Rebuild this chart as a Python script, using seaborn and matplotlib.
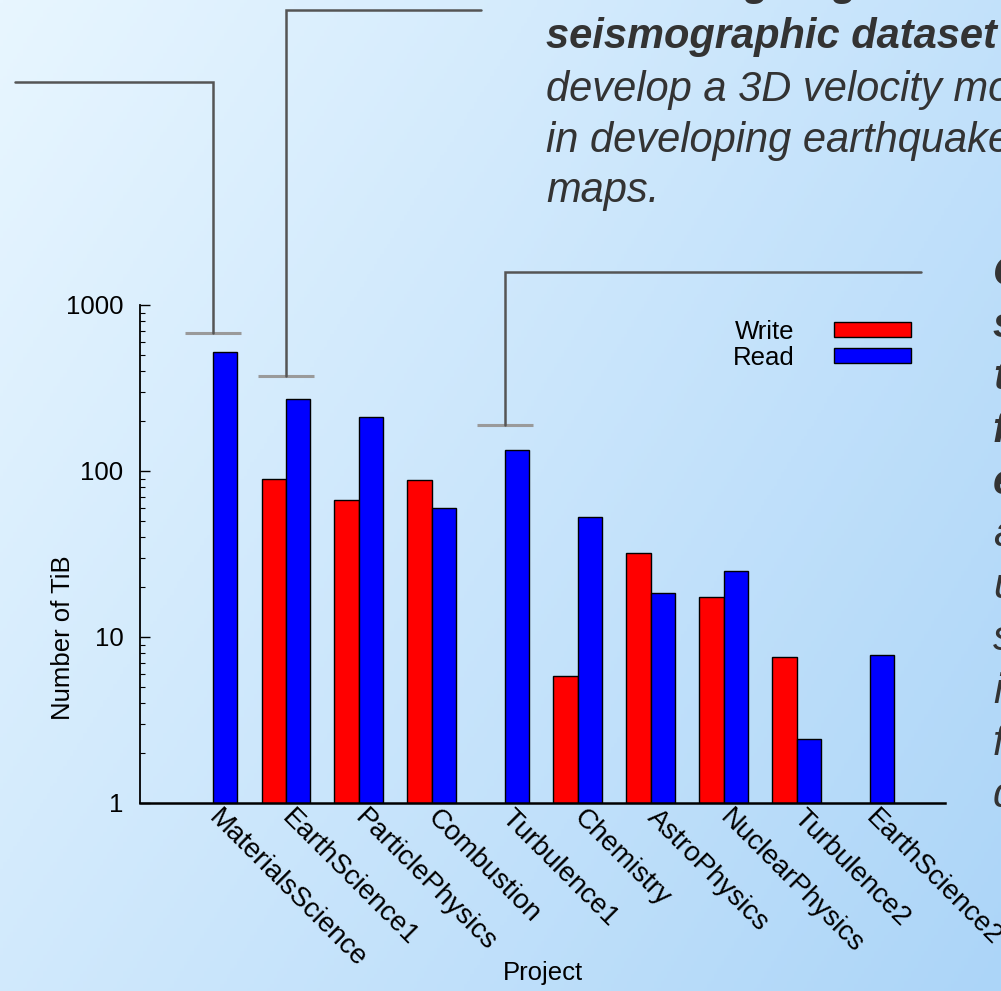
import numpy as np
import pandas as pd
import matplotlib
matplotlib.use("Agg")
import matplotlib.pyplot as plt
import seaborn as sns

# ---- data -------------------------------------------------------------
projects = ["MaterialsScience", "EarthScience1", "ParticlePhysics", "Combustion",
            "Turbulence1", "Chemistry", "AstroPhysics", "NuclearPhysics",
            "Turbulence2", "EarthScience2"]
write_tib = [np.nan, 90, 67, 88, np.nan, 5.8, 32, 17.4, 7.6, np.nan]
read_tib = [519, 270, 212, 60, 134, 53, 18.4, 25, 2.43, 7.8]
series_names = ["Write", "Read"]
series_colors = ["#ff0000", "#0000ff"]
y_ticks = [1, 10, 100, 1000]
y_tick_labels = ["1", "10", "100", "1000"]

# callout brackets: project, bracket level (TiB)
callout_projects = ["MaterialsScience", "EarthScience1", "Turbulence1"]
callout_levels = [678, 373, 189]

top_note = ["Processing large", "seismographic dataset", "develop a 3D velocity model",
            "in developing earthquake", "maps."]
side_note = ["Combustion", "simulations", "that", "fully", "exploit",
             "adaptive", "unstructured", "spatial", "information", "from", "data"]

df = pd.DataFrame({
    "Project": projects * 2,
    "Series": [series_names[0]] * len(projects) + [series_names[1]] * len(projects),
    "TiB": write_tib + read_tib,
})

# ---- figure -----------------------------------------------------------
sns.set_style("ticks")
plt.rcParams["font.family"] = ["Liberation Sans", "DejaVu Sans"]
plt.rcParams["text.color"] = "black"
plt.rcParams["axes.labelcolor"] = "black"
plt.rcParams["xtick.color"] = "black"
plt.rcParams["ytick.color"] = "black"
W, H = 1001, 991
fig = plt.figure(figsize=(W / 100, H / 100), dpi=100)

# soft diagonal gradient behind everything
bg = fig.add_axes([0, 0, 1, 1], zorder=-10)
gx, gy = np.meshgrid(np.linspace(0, 1, 300), np.linspace(0, 1, 300))
t = np.clip(0.62 * gx + 0.38 * gy, 0, 1)
c0 = np.array([232, 246, 255]) / 255.0
c1 = np.array([172, 213, 248]) / 255.0
img = c0[None, None, :] * (1 - t[..., None]) + c1[None, None, :] * t[..., None]
bg.imshow(img, aspect="auto", extent=[0, 1, 0, 1], origin="upper")
bg.set_axis_off()

ax_l, ax_r, ax_t, ax_b = 140, 945, 305, 803
ax = fig.add_axes([ax_l / W, (H - ax_b) / H, (ax_r - ax_l) / W, (ax_b - ax_t) / H])
ax.patch.set_alpha(0)
ax.set_yscale("log")

sns.barplot(data=df, x="Project", y="TiB", hue="Series", order=projects,
            hue_order=series_names, palette=series_colors, saturation=1,
            width=0.67, gap=0, edgecolor="black", linewidth=1.0,
            errorbar=None, ax=ax)

ax.set_xlim(-1.0, len(projects) + 0.03)
ax.set_ylim(1, 1000)
ax.set_yticks(y_ticks)
ax.set_yticklabels(y_tick_labels)
ax.tick_params(axis="y", which="major", direction="in", length=7, width=1.0,
               labelsize=18.5, pad=12, color="black", labelcolor="black")
ax.tick_params(axis="y", which="minor", direction="in", length=3.5, width=0.8,
               color="black")
ax.tick_params(axis="x", length=0, labelsize=20, pad=8, labelcolor="black")
for lab in ax.get_xticklabels():
    lab.set_rotation(-45)
    lab.set_ha("left")
    lab.set_va("center")
    lab.set_rotation_mode("anchor")

for s in ["top", "right"]:
    ax.spines[s].set_visible(False)
ax.spines["left"].set_linewidth(1.3)
ax.spines["bottom"].set_linewidth(1.8)
ax.spines["left"].set_color("black")
ax.spines["bottom"].set_color("black")

ax.set_ylabel("Number of TiB", fontsize=18.5, color="black")
ax.yaxis.set_label_coords(-0.081, 0.331)
ax.set_xlabel("Project", fontsize=18.5, color="black")
ax.xaxis.set_label_coords(0.50, -0.318)

sns.move_legend(ax, "upper right", bbox_to_anchor=(0.971, 0.991), title=None,
                frameon=False, markerfirst=False, fontsize=18.5,
                handlelength=3.0, handleheight=0.55, handletextpad=1.55,
                labelspacing=0.08, borderaxespad=0, labelcolor="black")

# ---- callout brackets ---------------------------------------------------
def px_to_data_x(px):
    return ax.transData.inverted().transform(fig.transFigure.transform((px / W, 0)))[0]

def px_to_data_y(py):
    return ax.transData.inverted().transform(fig.transFigure.transform((0, (H - py) / H)))[1]

elbow_tops = [82, 10, 272]     # pixel rows of the horizontal leaders
elbow_ends = [15, 481, 921]    # pixel columns where leaders end
for proj, lvl, top, end in zip(callout_projects, callout_levels, elbow_tops, elbow_ends):
    xc = projects.index(proj)
    ax.plot([xc - 0.38, xc + 0.38], [lvl, lvl], color="#9a9a9a", lw=2.2,
            clip_on=False, solid_capstyle="butt", zorder=5)
    ytop = px_to_data_y(top)
    xend = px_to_data_x(end)
    ax.plot([xc, xc, xend], [lvl, ytop, ytop], color="#555555", lw=1.8,
            clip_on=False, solid_joinstyle="miter", zorder=5)

# ---- surrounding notes ------------------------------------------------
note_color = "#333333"
top_base = [-5, 48, 101, 152, 202]
for i, (line, yb) in enumerate(zip(top_note, top_base)):
    fig.text(546 / W, 1 - yb / H, line, fontsize=30, style="italic",
             weight="bold" if i < 2 else "normal", color=note_color,
             ha="left", va="baseline")

for i, word in enumerate(side_note):
    yb = 285 + i * 52.2
    fig.text(993 / W, 1 - yb / H, word, fontsize=30, style="italic",
             weight="bold" if i < 5 else "normal", color=note_color,
             ha="left", va="baseline")

fig.savefig("out.png", dpi=100)
